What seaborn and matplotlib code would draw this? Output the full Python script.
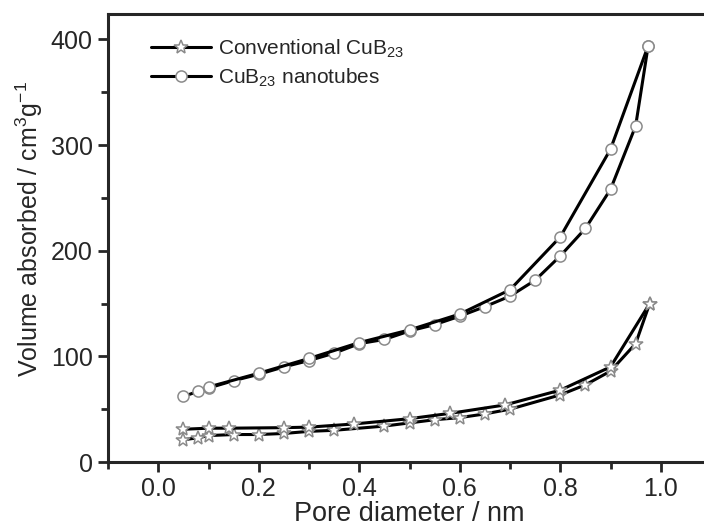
import matplotlib
matplotlib.use("Agg")
import matplotlib.pyplot as plt
import seaborn as sns
import numpy as np
import pandas as pd
from matplotlib.lines import Line2D
from matplotlib.ticker import MultipleLocator

# Nanotubes (circles)
tube_ads_x = [0.05, 0.08, 0.10, 0.15, 0.20, 0.25, 0.30, 0.35, 0.40, 0.45, 0.50, 0.55, 0.60, 0.65, 0.70, 0.75, 0.80, 0.85, 0.90, 0.95, 0.975]
tube_ads_y = [62, 67, 70, 77, 83, 90, 96, 103, 112, 116, 124, 130, 138, 147, 157, 172, 195, 221, 258, 318, 394]
tube_des_x = [0.975, 0.90, 0.80, 0.70, 0.60, 0.50, 0.40, 0.30, 0.20, 0.10]
tube_des_y = [394, 296, 213, 163, 140, 125, 113, 98, 84, 71]

# Conventional (stars)
conv_ads_x = [0.05, 0.08, 0.10, 0.15, 0.20, 0.25, 0.30, 0.35, 0.45, 0.50, 0.55, 0.60, 0.65, 0.70, 0.80, 0.85, 0.90, 0.95, 0.978]
conv_ads_y = [21, 23, 25, 26, 26, 27, 29, 30, 34, 37, 40, 42, 45.5, 50, 63.5, 73, 86, 112, 150]
conv_des_x = [0.978, 0.90, 0.80, 0.69, 0.58, 0.50, 0.39, 0.30, 0.25, 0.14, 0.10, 0.05]
conv_des_y = [150, 90, 68, 54, 46, 41, 36, 33, 32.5, 32, 32, 31]

legend_labels = ["Conventional CuB$_{23}$", "CuB$_{23}$ nanotubes"]

sns.set_style("ticks")
plt.rcParams['font.family'] = ['Liberation Sans', 'DejaVu Sans']
plt.rcParams['mathtext.fontset'] = 'custom'
plt.rcParams['mathtext.rm'] = 'Liberation Sans'

fig = plt.figure(figsize=(7.04, 5.29), dpi=100)
ax = fig.add_axes([108/704, (529-462)/529, (711-108)/704, (462-14)/529])

mk_edge = "#8a8a8a"
def branch(xs, ys, marker, ms):
    sns.lineplot(x=xs, y=ys, sort=False, ax=ax, color="black", linewidth=2.2,
                 marker=marker, markersize=ms, markerfacecolor="white",
                 markeredgecolor=mk_edge, markeredgewidth=1.1, estimator=None)

branch(conv_ads_x, conv_ads_y, "*", 10)
branch(conv_des_x, conv_des_y, "*", 10)
branch(tube_ads_x, tube_ads_y, "o", 8)
branch(tube_des_x, tube_des_y, "o", 8)

ax.set_xlim(-0.1, 1.1)
ax.set_ylim(0, 424)
ax.xaxis.set_major_locator(MultipleLocator(0.2))
ax.xaxis.set_minor_locator(MultipleLocator(0.1))
ax.yaxis.set_major_locator(MultipleLocator(100))
ax.yaxis.set_minor_locator(MultipleLocator(50))
ax.xaxis.set_major_formatter(matplotlib.ticker.FormatStrFormatter('%.1f'))
ax.tick_params(which='major', direction='out', length=7, width=2, labelsize=18, pad=4)
ax.tick_params(which='minor', direction='out', length=5, width=2)
for s in ['left', 'bottom', 'top']:
    ax.spines[s].set_linewidth(2.2)
ax.spines['right'].set_visible(False)

ax.set_xlabel("Pore diameter / nm", fontsize=19.5)
ax.set_ylabel("Volume absorbed / cm$^3$g$^{-1}$", fontsize=18)
ax.xaxis.set_label_coords(0.5, -0.088)
ax.yaxis.set_label_coords(-0.104, 0.52)

handles = [
    Line2D([], [], color='black', linewidth=2.2, marker='*', markersize=10,
           markerfacecolor='white', markeredgecolor=mk_edge, markeredgewidth=1.1),
    Line2D([], [], color='black', linewidth=2.2, marker='o', markersize=8,
           markerfacecolor='white', markeredgecolor=mk_edge, markeredgewidth=1.1),
]
ax.legend(handles, legend_labels, loc='upper left', bbox_to_anchor=(0.04, 0.99),
          frameon=False, fontsize=15, handlelength=2.9, handletextpad=0.3,
          labelspacing=0.3, numpoints=1)

fig.savefig("out.png", dpi=100)
